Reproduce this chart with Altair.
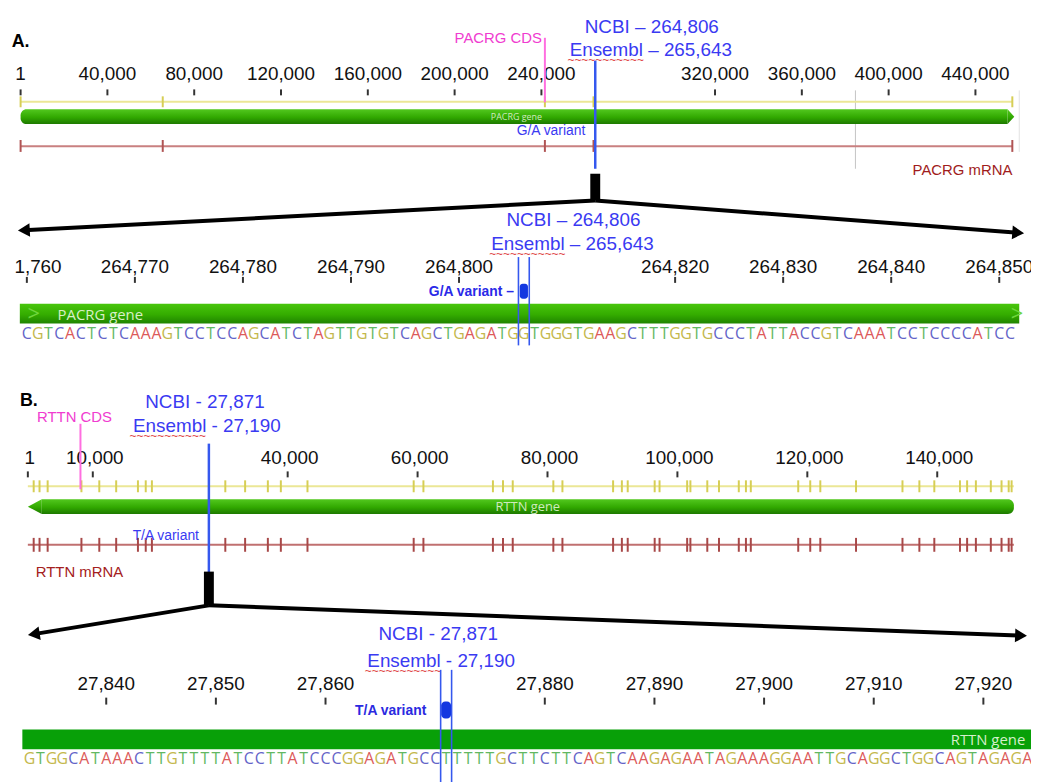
import altair as alt
import pandas as pd

# ------------------------------------------------------------------ data
A_TICKS = [1, 40000, 80000, 120000, 160000, 200000, 240000, 320000, 360000, 400000, 440000]
A_TICK_TEXT = ["1", "40,000", "80,000", "120,000", "160,000", "200,000", "240,000",
               "320,000", "360,000", "400,000", "440,000"]
A_GENE = [1, 457000]
A_EXON_MARKS = [1, 65500, 241600, 264000, 457000]
A_CDS_START = 241600
A_VARIANT = 264806
A_VIEW_LINES = [384700, 460200]
A_LABELS = ["NCBI – 264,806", "Ensembl – 265,643"]
A_ZOOM_TICKS = [264760, 264770, 264780, 264790, 264800, 264820, 264830, 264840, 264850]
A_ZOOM_TEXT = ["1,760", "264,770", "264,780", "264,790", "264,800", "264,820",
               "264,830", "264,840", "264,850"]
A_SEQ_START = 264760
A_SEQ = ("CGTCACTCTCAAAGTCCTCCAGCATCTAGTTGTGTCAGCTGAGATG" + "G" +
         "TGGGTGAAGCTTTGGTGCCCTATTACCGTCAAATCCTCCCCATCC")

B_TICKS = [1, 10000, 40000, 60000, 80000, 100000, 120000, 140000]
B_TICK_TEXT = ["1", "10,000", "40,000", "60,000", "80,000", "100,000", "120,000", "140,000"]
B_GENE = [1, 151800]
B_EXON_MARKS = [900, 1800, 3050, 8250, 11000, 13600, 16950, 18150, 19100, 30400, 33450,
                36950, 38950, 43050, 59400, 60900, 71600, 73150, 74650, 80900, 82300,
                90100, 91450, 92350, 96500, 97250, 101500, 102000, 104600, 106400,
                109450, 110550, 111300, 118600, 120450, 122000, 127500, 134650, 137250,
                139550, 143500, 144600, 145950, 148250, 149900, 151000, 151450]
B_CDS_START = 8100
B_VARIANT = 27871
B_LABELS = ["NCBI - 27,871", "Ensembl - 27,190"]
B_ZOOM_TICKS = [27840, 27850, 27860, 27880, 27890, 27900, 27910, 27920]
B_ZOOM_TEXT = ["27,840", "27,850", "27,860", "27,880", "27,890", "27,900", "27,910", "27,920"]
B_SEQ_START = 27833
B_SEQ = ("GTGGCATAAACTTGTTTTATCCTTATCCCGGAGATGCC" + "T" + "TTTTGC" +
         "TTCTTCAGTCAAGAGAATAGAAAGGAATTGCAGGCTGGCAGTAGAGA")

BASES = ["A", "C", "G", "T"]
BASE_COLORS = ["#dc5a5a", "#6464c8", "#c4b84c", "#62b862"]

# ------------------------------------------------------------------ layout / style
W, H = 1031, 774
FONT = "Liberation Sans"
GENE_FONT = "Open Sans"
BLUE = "#3a3af2"
LINE_BLUE = "#3558ee"


def xscale(g1, p1, g2, p2):
    s = (p2 - p1) / (g2 - g1)
    return alt.Scale(domain=[g1 + (8 - p1) / s, g1 + (8 + W - p1) / s], nice=False, zero=False)


YS = alt.Scale(domain=[8, 8 + H], reverse=True, nice=False, zero=False)


def X(sc, f="g"):
    return alt.X(f"{f}:Q", scale=sc, axis=None)


def Y(f="y"):
    return alt.Y(f"{f}:Q", scale=YS, axis=None)


def vrules(sc, gs, y0, y1, color, width):
    df = pd.DataFrame({"g": list(gs)})
    df["y"] = y0
    df["y2"] = y1
    return alt.Chart(df).mark_rule(color=color, strokeWidth=width).encode(
        x=X(sc), y=Y(), y2="y2:Q")


def hline(sc, g0, g1, y, color, width):
    df = pd.DataFrame({"g": [g0], "g2": [g1], "y": [y]})
    return alt.Chart(df).mark_rule(color=color, strokeWidth=width).encode(
        x=X(sc), x2="g2:Q", y=Y())


def texts(sc, gs, y, labels, **kw):
    df = pd.DataFrame({"g": list(gs), "t": list(labels)})
    df["y"] = y
    kw.setdefault("font", FONT)
    kw.setdefault("baseline", "alphabetic")
    return alt.Chart(df).mark_text(**kw).encode(x=X(sc), y=Y(), text="t:N")


def box(sc, g0, g1, y0, y1, **kw):
    df = pd.DataFrame({"g": [g0], "g2": [g1], "y": [y0], "y2": [y1]})
    return alt.Chart(df).mark_rect(**kw).encode(x=X(sc), x2="g2:Q", y=Y(), y2="y2:Q")


def tri(sc, gs, ys, y2s, **kw):
    df = pd.DataFrame({"g": gs, "y": ys, "y2": y2s})
    return alt.Chart(df).mark_area(**kw).encode(x=X(sc), y=Y(), y2="y2:Q")


def connector(sc, g, y0, y1, tips, ytips, angles):
    bar = vrules(sc, [g], y0, y1, "black", 10)
    df = pd.DataFrame({"g": [g, g], "g2": tips, "y": [y1, y1], "y2": ytips})
    lines = alt.Chart(df).mark_rule(color="black", strokeWidth=4).encode(
        x=X(sc), x2="g2:Q", y=Y(), y2="y2:Q")
    dh = pd.DataFrame({"g": tips, "y": ytips, "shape": ["triangle-left", "triangle-right"],
                       "angle": angles})
    heads = alt.Chart(dh).mark_point(filled=True, color="black", opacity=1, size=190).encode(
        x=X(sc), y=Y(), shape=alt.Shape("shape:N", scale=None),
        angle=alt.Angle("angle:Q", scale=None))
    return [bar, lines, heads]


def seq(sc, start, s, y):
    df = pd.DataFrame({"g": [start + i for i in range(len(s))], "b": list(s)})
    df["y"] = y
    return alt.Chart(df).mark_text(font=GENE_FONT, fontSize=16, baseline="alphabetic").encode(
        x=X(sc), y=Y(), text="b:N",
        color=alt.Color("b:N", scale=alt.Scale(domain=BASES, range=BASE_COLORS), legend=None))


def green(top, mid, bottom):
    return alt.Gradient(gradient="linear", x1=0, x2=0, y1=0, y2=1, stops=[
        alt.GradientStop(color=top, offset=0),
        alt.GradientStop(color=mid, offset=0.55),
        alt.GradientStop(color=bottom, offset=1)])


WAVE = "~" * 11

# ------------------------------------------------------------------ panel A overview
sA1 = xscale(1, 20.7, 440000, 983)
A1 = [
    texts(sA1, [A_GENE[0]], 44, ["A."], fontSize=18, fontWeight="bold", align="left", dx=-9),
    vrules(sA1, A_VIEW_LINES[:1], 88, 167, "#c4c4c4", 1),
    vrules(sA1, A_VIEW_LINES[1:], 88, 150, "#e2e2e2", 1),
    texts(sA1, A_TICKS, 78, A_TICK_TEXT, fontSize=19, color="#111111", align="center"),
    vrules(sA1, A_TICKS, 87, 93, "#333333", 2),
    hline(sA1, A_GENE[0], A_GENE[1], 99.5, "#ebe796", 2),
    vrules(sA1, A_EXON_MARKS, 94, 105, "#d6ce55", 2),
    vrules(sA1, [A_CDS_START], 35, 100, "#ff6ee0", 2),
    texts(sA1, [A_CDS_START], 40, ["PACRG CDS"], fontSize=15, color="#f03cd0", align="right", dx=-3),
    box(sA1, A_GENE[0], 454800, 107, 122, color=green("#52c81e", "#31a800", "#1d7800"),
        cornerRadiusTopLeft=6, cornerRadiusBottomLeft=6),
    tri(sA1, [454800, 457900], [107, 114.5], [122, 114.5], color=green("#52c81e", "#31a800", "#1d7800")),
    texts(sA1, [(A_GENE[0] + A_GENE[1]) / 2], 118, ["PACRG gene"], font=GENE_FONT, fontSize=9,
          color="#cfeabe", align="center"),
    hline(sA1, A_GENE[0], A_GENE[1], 144.3, "#c98080", 2),
    vrules(sA1, A_EXON_MARKS, 138, 150, "#b05454", 2),
    vrules(sA1, [A_VARIANT], 58, 167, LINE_BLUE, 2.5),
    texts(sA1, [A_VARIANT], 133, ["G/A variant"], fontSize=14, color=BLUE, align="right", dx=-10),
    texts(sA1, [A_GENE[1]], 173, ["PACRG mRNA"], fontSize=15, color="#a01c1c", align="right"),
    texts(sA1, [A_VARIANT], 30, A_LABELS[:1], fontSize=19, color=BLUE, align="center", dx=57),
    texts(sA1, [A_VARIANT], 53, A_LABELS[1:], fontSize=19, color=BLUE, align="center", dx=56),
    texts(sA1, [A_VARIANT], 61, [WAVE], fontSize=12, color="#e04848", align="left", dx=-28),
] + connector(sA1, A_VARIANT, 172, 199, [1500, 459700], [229, 231.5], [357, 4.4])

# ------------------------------------------------------------------ panel A zoom
sA2 = xscale(264760, 27, 264850, 1007)
A2 = [
    texts(sA2, [A_VARIANT], 225, A_LABELS[:1], fontSize=19, color=BLUE, align="center", dx=50),
    texts(sA2, [A_VARIANT], 249, A_LABELS[1:], fontSize=19, color=BLUE, align="center", dx=49),
    texts(sA2, [A_VARIANT], 257, [WAVE], fontSize=12, color="#e04848", align="left", dx=-35),
    texts(sA2, A_ZOOM_TICKS[:1], 272, A_ZOOM_TEXT[:1], fontSize=19, color="#111111",
          align="right", dx=35),
    texts(sA2, A_ZOOM_TICKS[1:], 272, A_ZOOM_TEXT[1:], fontSize=19, color="#111111", align="center"),
    vrules(sA2, A_ZOOM_TICKS, 276, 282, "#333333", 2),
    box(sA2, A_SEQ_START - 0.65, A_SEQ_START + len(A_SEQ) - 0.15, 303, 323,
        color=green("#48c60c", "#34ac00", "#1f8400")),
    texts(sA2, [A_SEQ_START, A_SEQ_START + len(A_SEQ) - 1], 320, [">", ">"], font=GENE_FONT,
          fontSize=22, color="#6fd63c", align="center", dx=7),
    texts(sA2, [A_SEQ_START], 319, ["PACRG gene"], font=GENE_FONT, fontSize=15,
          color="#d8f0c6", align="left", dx=31),
    seq(sA2, A_SEQ_START, A_SEQ, 339),
    texts(sA2, [A_VARIANT], 295, ["G/A variant –"], fontSize=14, fontWeight="bold",
          color="#2a2ae8", align="right", dx=-10),
    vrules(sA2, [A_VARIANT - 0.5, A_VARIANT + 0.5], 256, 345, LINE_BLUE, 1.6),
    box(sA2, A_VARIANT - 0.38, A_VARIANT + 0.38, 283, 298, color="#1438e0", cornerRadius=3),
]

# ------------------------------------------------------------------ panel B overview
sB1 = xscale(1, 28, 140000, 944.5)
B1 = [
    texts(sB1, [B_GENE[0]], 406, ["B."], fontSize=18, fontWeight="bold", align="left", dx=-8),
    texts(sB1, [B_CDS_START], 422, ["RTTN CDS"], fontSize=15, color="#f03cd0", align="center", dx=-6),
    texts(sB1, [B_VARIANT], 408, B_LABELS[:1], fontSize=19, color=BLUE, align="center", dx=-4),
    texts(sB1, [B_VARIANT], 432, B_LABELS[1:], fontSize=19, color=BLUE, align="center", dx=-2),
    texts(sB1, [B_VARIANT], 440, [WAVE], fontSize=12, color="#e04848", align="left", dx=-80),
    texts(sB1, B_TICKS, 465, B_TICK_TEXT, fontSize=19, color="#111111", align="center", dx=2),
    vrules(sB1, B_TICKS, 472, 478, "#333333", 2),
    hline(sB1, B_GENE[0], B_GENE[1], 487, "#ebe796", 2),
    vrules(sB1, B_EXON_MARKS, 481, 493, "#d6ce55", 2),
    vrules(sB1, [B_CDS_START], 424, 490, "#ff6ee0", 2),
    box(sB1, 2140, B_GENE[1], 500, 515, color=green("#52c81e", "#31a800", "#1d7800"),
        cornerRadiusTopRight=6, cornerRadiusBottomRight=6),
    tri(sB1, [B_GENE[0], 2140], [507.5, 500], [507.5, 515], color=green("#52c81e", "#31a800", "#1d7800")),
    texts(sB1, [(B_GENE[0] + B_GENE[1]) / 2], 512, ["RTTN gene"], font=GENE_FONT, fontSize=13,
          color="#cfeabe", align="center", dx=7),
    hline(sB1, B_GENE[0], B_GENE[1], 546, "#c07070", 2),
    vrules(sB1, B_EXON_MARKS, 539, 553, "#a84848", 2),
    texts(sB1, [B_VARIANT], 541, ["T/A variant"], fontSize=14, color=BLUE, align="right", dx=-10),
    texts(sB1, [B_GENE[0]], 578, ["RTTN mRNA"], fontSize=15, color="#a42020", align="left", dx=8),
    vrules(sB1, [B_VARIANT], 444, 580, LINE_BLUE, 2.5),
] + connector(sB1, B_VARIANT, 573, 607, [917, 152900], [636, 637.5], [351, 2.1])

# ------------------------------------------------------------------ panel B zoom
sB2 = xscale(27840, 107, 27920, 991)
B2 = [
    texts(sB2, [B_VARIANT], 642, B_LABELS[:1], fontSize=19, color=BLUE, align="center", dx=-8),
    texts(sB2, [B_VARIANT], 669, B_LABELS[1:], fontSize=19, color=BLUE, align="center", dx=-5),
    texts(sB2, [B_VARIANT], 677, [WAVE], fontSize=12, color="#e04848", align="left", dx=-82),
    texts(sB2, B_ZOOM_TICKS, 692, B_ZOOM_TEXT, fontSize=19, color="#111111", align="center"),
    vrules(sB2, B_ZOOM_TICKS, 700, 707, "#333333", 2),
    box(sB2, B_SEQ_START - 0.65, B_SEQ_START + len(B_SEQ) + 1, 732, 752, color="#08a008"),
    texts(sB2, [B_SEQ_START + len(B_SEQ) - 1], 748, ["RTTN gene"], font=GENE_FONT, fontSize=15,
          color="#d6f0cc", align="right", dx=-2),
    seq(sB2, B_SEQ_START, B_SEQ, 767),
    texts(sB2, [B_VARIANT], 717, ["T/A variant"], fontSize=14, fontWeight="bold",
          color="#2a2ae0", align="right", dx=-20),
    vrules(sB2, [B_VARIANT - 0.5, B_VARIANT + 0.5], 672, 790, LINE_BLUE, 1.6),
    box(sB2, B_VARIANT - 0.45, B_VARIANT + 0.45, 704, 721, color="#1438e0", cornerRadius=4),
]

chart = alt.layer(
    alt.layer(*A1), alt.layer(*A2), alt.layer(*B1), alt.layer(*B2)
).resolve_scale(x="independent").properties(
    width=W, height=H, padding=0, autosize=alt.AutoSizeParams(type="none")
).configure_view(stroke=None)

chart.save("out.html", embed_options={"renderer": "svg", "actions": False})
